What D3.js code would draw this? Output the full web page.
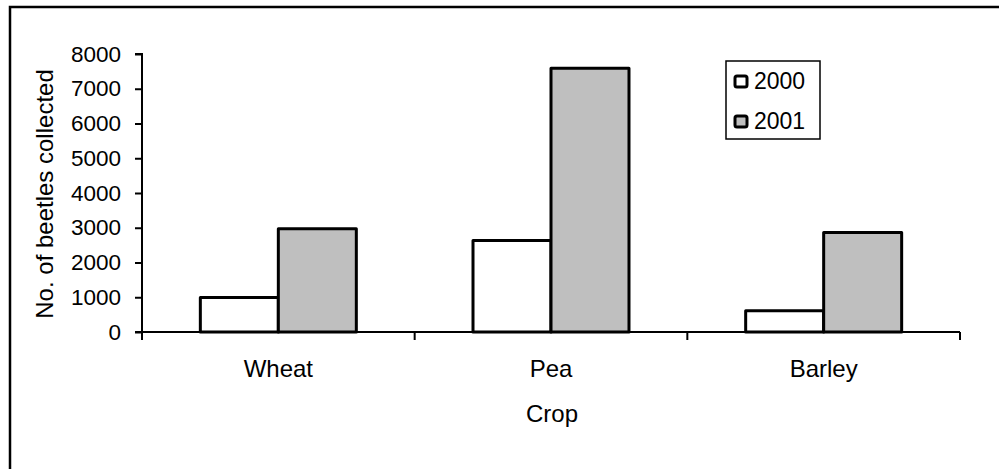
<!DOCTYPE html>
<html><head><meta charset="utf-8">
<script src="https://cdn.jsdelivr.net/npm/d3@7"></script>
<style>
html,body{margin:0;padding:0;background:#fff;}
svg{display:block;font-family:"Liberation Sans",Arial,sans-serif;}
</style></head>
<body><svg id="c" width="999" height="469"></svg>
<script>
const crops = ["Wheat","Pea","Barley"];
const seriesNames = ["2000","2001"];
const values2000 = [990, 2630, 615];
const values2001 = [2970, 7590, 2860];
const yTicks = [0,1000,2000,3000,4000,5000,6000,7000,8000];

const svg = d3.select("#c");
const L = 142, R = 960, T = 54, B = 332;
const fillC = {"2000":"#ffffff","2001":"#bfbfbf"};
const FONT = "Liberation Sans, Arial, sans-serif";

// frame
svg.append("path").attr("d","M10,469 V7 H999").attr("fill","none").attr("stroke","#000").attr("stroke-width",2.5);

const x = d3.scaleBand().domain(crops).range([L,R]).padding(0);
const xs = d3.scaleBand().domain(seriesNames).range([0,x.bandwidth()]).paddingInner(0).paddingOuter(0.748);
const y = d3.scaleLinear().domain([0,8000]).range([B,T]);

// y axis
const yAxis = svg.append("g").attr("transform",`translate(${L},0)`)
  .call(d3.axisLeft(y).tickValues(yTicks).tickSize(7).tickPadding(14).tickFormat(d3.format("d")));
yAxis.select(".domain").attr("stroke-width",2).attr("d",`M-7,${T}H0V${B}H-7`);
yAxis.selectAll(".tick line").attr("stroke-width",2);
yAxis.selectAll("text").attr("font-size",22.5).attr("fill","#000").attr("font-family",FONT);

// bars
const data = crops.map((c,i)=>({crop:c, vals:[{s:"2000",v:values2000[i]},{s:"2001",v:values2001[i]}]}));
const g = svg.append("g");
data.forEach(d=>{
  g.selectAll(null).data(d.vals).enter().append("rect")
    .attr("x",v=>x(d.crop)+xs(v.s))
    .attr("width",xs.bandwidth())
    .attr("y",v=>y(v.v))
    .attr("height",v=>B-y(v.v))
    .attr("fill",v=>fillC[v.s])
    .attr("stroke","#000").attr("stroke-width",3).attr("stroke-linejoin","round");
});

// x axis
svg.append("line").attr("x1",L).attr("x2",R).attr("y1",B).attr("y2",B).attr("stroke","#000").attr("stroke-width",2);
const bounds = crops.map(c=>x(c)).concat([R]);
svg.selectAll(null).data(bounds).enter().append("line")
  .attr("x1",d=>d).attr("x2",d=>d).attr("y1",B).attr("y2",B+8).attr("stroke","#000").attr("stroke-width",2);
svg.selectAll(null).data(crops).enter().append("text")
  .attr("x",d=>x(d)+x.bandwidth()/2).attr("y",377)
  .attr("text-anchor","middle").attr("font-size",24).text(d=>d);

// axis titles
svg.append("text").attr("x",(L+R)/2+1).attr("y",422).attr("text-anchor","middle").attr("font-size",24).text("Crop");
svg.append("text").attr("transform",`translate(53,${(T+B)/2+1}) rotate(-90)`).attr("text-anchor","middle").attr("font-size",24).text("No. of beetles collected");

// legend
const lg = svg.append("g");
lg.append("rect").attr("x",726).attr("y",61).attr("width",94).attr("height",78).attr("fill","#fff").attr("stroke","#000").attr("stroke-width",1.5);
seriesNames.forEach((s,i)=>{
  const yy = 76 + i*40;
  lg.append("rect").attr("x",735).attr("y",yy).attr("width",12).attr("height",11).attr("rx",2)
    .attr("fill",fillC[s]).attr("stroke","#000").attr("stroke-width",3);
  lg.append("text").attr("x",754).attr("y",yy+13).attr("font-size",23).text(s);
});
</script></body></html>
